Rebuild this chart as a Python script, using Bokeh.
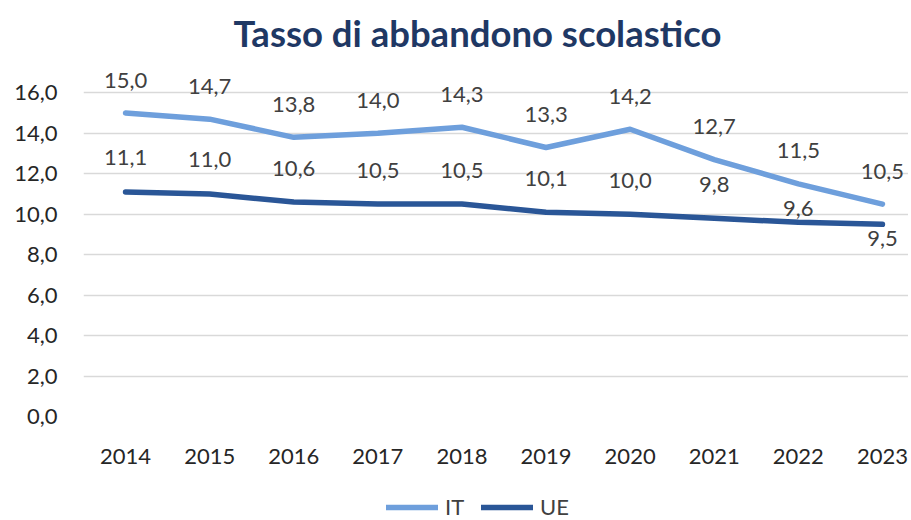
from bokeh.plotting import figure
from bokeh.layouts import column
from bokeh.models import Range1d, FixedTicker, Legend, LegendItem, ColumnDataSource, Title
from bokeh.core.properties import value
from bokeh.embed import file_html
from bokeh.resources import INLINE

years = [2014, 2015, 2016, 2017, 2018, 2019, 2020, 2021, 2022, 2023]
it_values = [15.0, 14.7, 13.8, 14.0, 14.3, 13.3, 14.2, 12.7, 11.5, 10.5]
ue_values = [11.1, 11.0, 10.6, 10.5, 10.5, 10.1, 10.0, 9.8, 9.6, 9.5]
y_ticks = [0, 2, 4, 6, 8, 10, 12, 14, 16]
series_names = ["IT", "UE"]

# label placement (screen px offsets, styling only)
it_offsets = [-33] * 10
ue_offsets = [-34, -34, -34, -34, -34, -34, -34, -34, -14, 14]

FONT = "Lato"
IT_COLOR = "#6E9FDC"
UE_COLOR = "#2A5697"

def fmt(v):
    return f"{v:.1f}".replace(".", ",")

p = figure(width=908, height=475,
           x_range=Range1d(2013.5, 2023.31), y_range=Range1d(0, 17.5),
           output_backend="svg", toolbar_location=None,
           min_border_left=83, min_border_right=0, min_border_top=62, min_border_bottom=59)
p.outline_line_color = None
p.background_fill_color = "white"
p.border_fill_color = "white"

title = Title(text="Tasso di abbandono scolastico", text_font=FONT, text_font_size="36.5px",
              text_font_style="bold", text_color="#1F3864", align="left", offset=150,
              standoff=16)
p.add_layout(title, "above")

p.xgrid.grid_line_color = None
p.ygrid.grid_line_color = "#D9D9D9"
p.ygrid.grid_line_width = 1.5
p.ygrid.ticker = FixedTicker(ticks=y_ticks)

p.yaxis.ticker = FixedTicker(ticks=y_ticks)
p.yaxis.major_label_overrides = {t: fmt(t) for t in y_ticks}
p.xaxis.ticker = FixedTicker(ticks=years)
p.xaxis.major_label_overrides = {y: str(y) for y in years}
for ax in (p.xaxis[0], p.yaxis[0]):
    ax.axis_line_color = None
    ax.major_tick_line_color = None
    ax.minor_tick_line_color = None
    ax.major_label_text_font = FONT
    ax.major_label_text_font_size = "22px"
    ax.major_label_text_color = "#262626"
p.yaxis.major_label_standoff = 20
p.xaxis.major_label_standoff = 26

src = ColumnDataSource(dict(x=years, it=it_values, ue=ue_values,
                            it_lab=[fmt(v) for v in it_values],
                            ue_lab=[fmt(v) for v in ue_values],
                            it_off=it_offsets, ue_off=ue_offsets))

p.line("x", "it", source=src, line_color=IT_COLOR, line_width=5.5, line_cap="round", line_join="round")
p.line("x", "ue", source=src, line_color=UE_COLOR, line_width=5.5, line_cap="round", line_join="round")

p.text("x", "it", text="it_lab", source=src, y_offset="it_off", text_align="center",
       text_baseline="middle", text_font=value(FONT), text_font_size="22px", text_color="#404040")
p.text("x", "ue", text="ue_lab", source=src, y_offset="ue_off", text_align="center",
       text_baseline="middle", text_font=value(FONT), text_font_size="22px", text_color="#404040")

# legend strip below the chart (series drawn out of view, only their legend swatches show)
p2 = figure(width=908, height=45, x_range=Range1d(0, 1), y_range=Range1d(0, 1),
            x_axis_type=None, y_axis_type=None, output_backend="svg", toolbar_location=None,
            min_border_left=0, min_border_right=0, min_border_top=0, min_border_bottom=0)
p2.outline_line_color = None
p2.grid.grid_line_color = None
p2.background_fill_color = "white"
p2.border_fill_color = "white"
lg_it = p2.line("x", "it", source=src, line_color=IT_COLOR, line_width=5.5, line_cap="round")
lg_ue = p2.line("x", "ue", source=src, line_color=UE_COLOR, line_width=5.5, line_cap="round")

legend = Legend(items=[LegendItem(label=series_names[0], renderers=[lg_it]),
                       LegendItem(label=series_names[1], renderers=[lg_ue])],
                orientation="horizontal", location=(303, 0), border_line_color=None,
                background_fill_alpha=0,
                label_text_font=FONT, label_text_font_size="22px", label_text_color="#404040",
                glyph_width=52, glyph_height=22, spacing=16, label_standoff=7, padding=0, margin=0)
p2.add_layout(legend, "center")

layout = column(p, p2, spacing=0)
open("out.html", "w").write(file_html(layout, INLINE))
